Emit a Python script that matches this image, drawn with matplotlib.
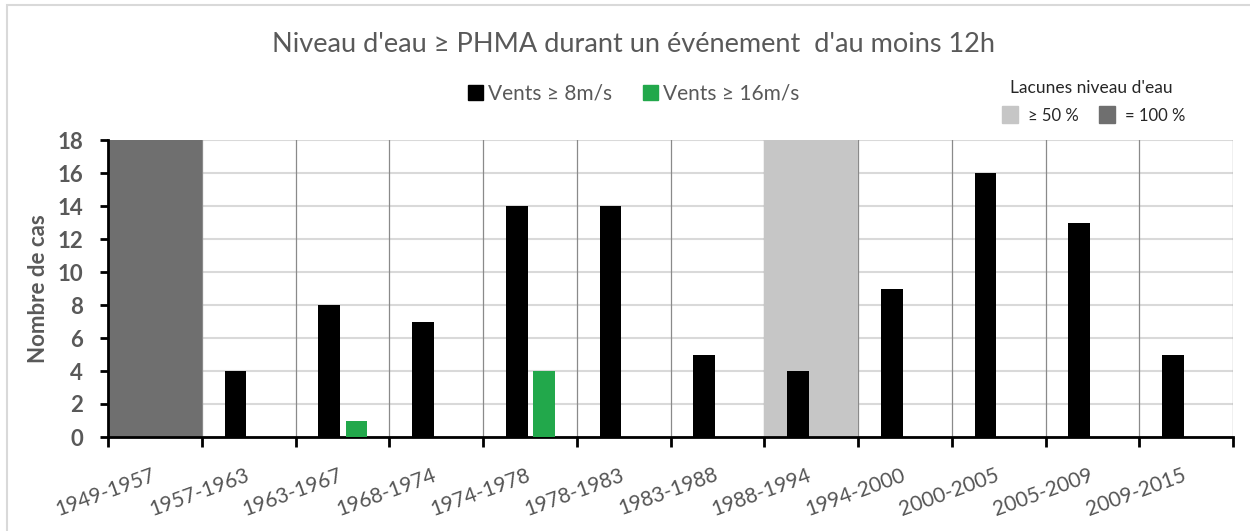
import matplotlib.pyplot as plt
import matplotlib.transforms as mtransforms
from matplotlib.patches import Rectangle
import numpy as np

plt.rcParams['font.family'] = ['Lato', 'DejaVu Sans']

# Données : nombre de cas par période
periodes = ['1949-1957', '1957-1963', '1963-1967', '1968-1974', '1974-1978',
            '1978-1983', '1983-1988', '1988-1994', '1994-2000', '2000-2005',
            '2005-2009', '2009-2015']
vents_8 = [0, 4, 8, 7, 14, 14, 5, 4, 9, 16, 13, 5]
vents_16 = [0, 0, 1, 0, 4, 0, 0, 0, 0, 0, 0, 0]
lacune_50 = [0, 0, 0, 0, 0, 0, 0, 18, 0, 0, 0, 0]
lacune_100 = [18, 0, 0, 0, 0, 0, 0, 0, 0, 0, 0, 0]

c_noir = '#000000'
c_vert = '#22a84b'
c_gris_clair = '#c6c6c6'
c_gris_fonce = '#6f6f6f'
c_texte = '#595959'

W, H = 1250, 531
fig = plt.figure(figsize=(W / 100, H / 100), dpi=100)
ax = fig.add_axes([108 / W, 1 - 437 / H, 1125 / W, 297 / H])

x = np.arange(len(periodes))

# Lacunes (barres pleine largeur)
ax.bar(x, lacune_50, width=1.0, color=c_gris_clair, zorder=2)
ax.bar(x, lacune_100, width=1.0, color=c_gris_fonce, zorder=2)

# Séries vents
w = 0.23
ax.bar(x - 0.14, vents_8, width=w, color=c_noir, zorder=3)
ax.bar(x + 0.15, vents_16, width=w, color=c_vert, zorder=3)

ax.set_xlim(-0.5, len(periodes) - 0.5)
ax.set_ylim(0, 18)
ax.set_yticks(np.arange(0, 19, 2))

# Grille horizontale claire et séparateurs verticaux
ax.set_axisbelow(True)
ax.yaxis.grid(True, color='#d9d9d9', linewidth=1.5, zorder=0)
bornes = np.arange(-0.5, len(periodes) + 0.5, 1.0)
for b in bornes[1:]:
    ax.axvline(b, color='#8a8a8a', linewidth=0.9, zorder=1)

ax.set_xticks(bornes)
ax.set_xticklabels([])
ax.set_xticks(x, minor=True)
ax.set_xticklabels(periodes, minor=True, rotation=20, ha='right', va='top',
                   rotation_mode='anchor', fontsize=15, color='#555555')
ax.tick_params(axis='x', which='minor', length=0, pad=20)
ax.tick_params(axis='x', which='major', direction='out', length=7, width=2, color='black')
ax.tick_params(axis='y', direction='out', length=6, width=2, color='black',
               labelsize=16, labelcolor=c_texte, pad=12)
for lab in ax.get_yticklabels():
    lab.set_fontweight('bold')
decal = mtransforms.ScaledTranslation(-4 / 100, 0, fig.dpi_scale_trans)
for lab in ax.get_xticklabels(minor=True):
    lab.set_transform(lab.get_transform() + decal)

for s in ['top', 'right']:
    ax.spines[s].set_visible(False)
ax.spines['left'].set_linewidth(2)
ax.spines['bottom'].set_linewidth(2)

ax.set_ylabel('Nombre de cas', fontsize=16, fontweight='bold', color=c_texte, labelpad=6)

# Titre
fig.text(633 / W, 1 - 44 / H, "Niveau d'eau \u2265 PHMA durant un événement  d'au moins 12h",
         ha='center', va='center', fontsize=19.5, color=c_texte)

# Légende des vents
fig.patches.append(Rectangle((468 / W, 1 - 100 / H), 15 / W, 15 / H,
                             transform=fig.transFigure, color=c_noir))
fig.text(488 / W, 1 - 93 / H, 'Vents \u2265 8m/s', fontsize=15,
         color=c_texte, ha='left', va='center')
fig.patches.append(Rectangle((643 / W, 1 - 100 / H), 15 / W, 15 / H,
                             transform=fig.transFigure, color=c_vert))
fig.text(663 / W, 1 - 93 / H, 'Vents \u2265 16m/s', fontsize=15,
         color=c_texte, ha='left', va='center')

# Légende des lacunes
c_leg = '#262626'
fig.text(1010 / W, 1 - 88 / H, "Lacunes niveau d'eau", fontsize=12.5,
         color=c_leg, ha='left', va='center')
fig.patches.append(Rectangle((1002 / W, 1 - 123 / H), 16 / W, 17 / H,
                             transform=fig.transFigure, color=c_gris_clair))
fig.text(1028 / W, 1 - 116 / H, '\u2265 50 %', fontsize=12,
         color=c_leg, ha='left', va='center')
fig.patches.append(Rectangle((1099 / W, 1 - 123 / H), 16 / W, 17 / H,
                             transform=fig.transFigure, color=c_gris_fonce))
fig.text(1125 / W, 1 - 116 / H, '= 100 %', fontsize=12,
         color=c_leg, ha='left', va='center')

# Cadre du graphique
fig.patches.append(Rectangle((7 / W, -0.1), 1.2, 1.1 - 5 / H, transform=fig.transFigure,
                             fill=False, edgecolor='#d9d9d9', linewidth=1.5))

fig.savefig('out.png', dpi=100, facecolor='white')
